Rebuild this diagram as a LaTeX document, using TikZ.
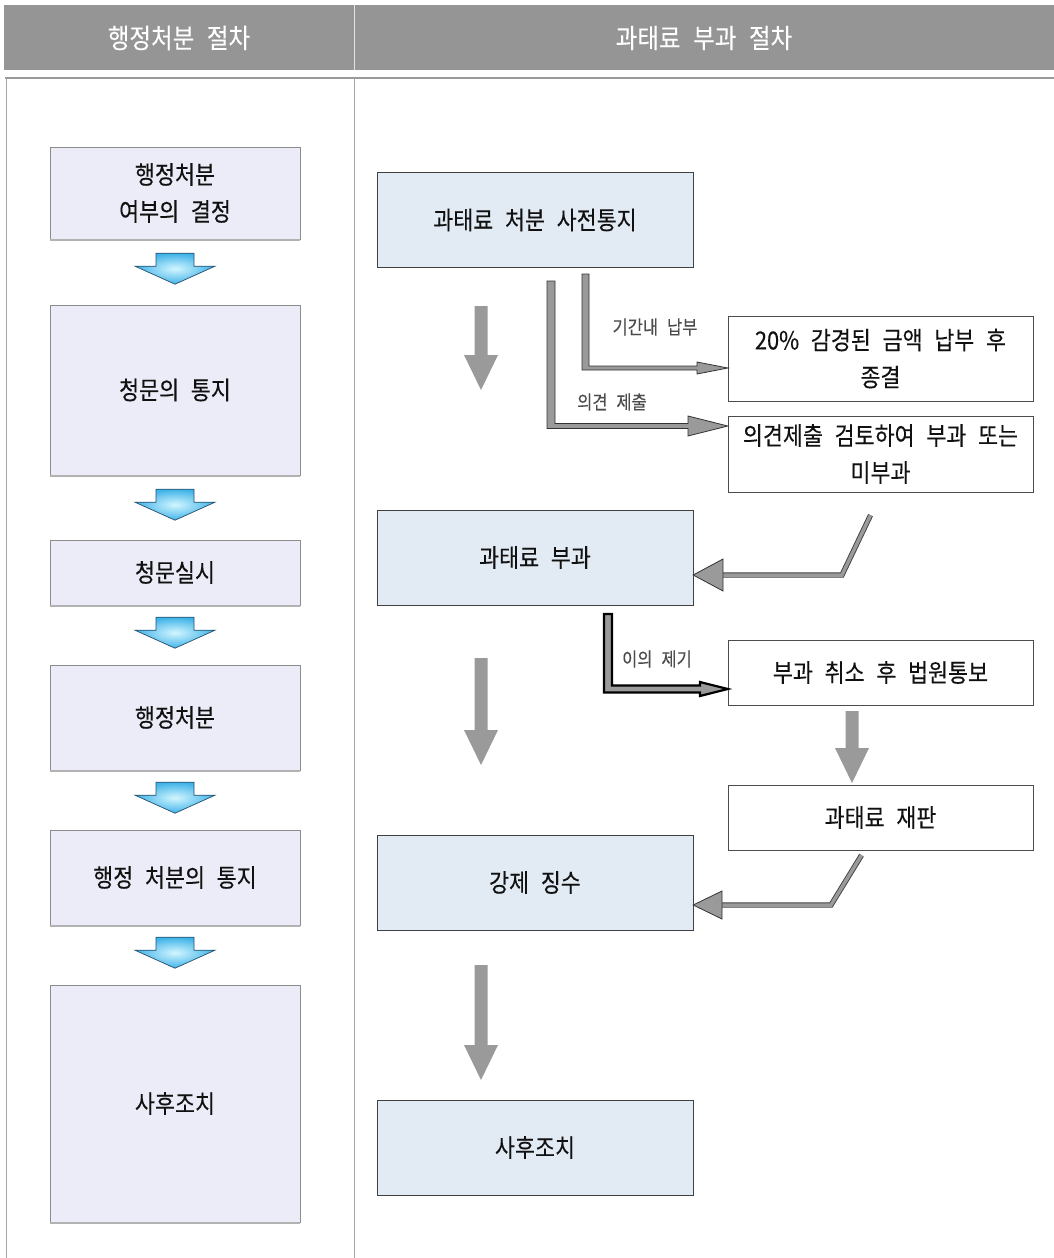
\documentclass[tikz,border=0pt]{standalone}
\usepackage{fontspec}
\setmainfont{Noto Sans CJK KR}[FakeStretch=0.87, WordSpace=2.4, FakeBold=0.2]
\usetikzlibrary{calc}
\definecolor{hdr}{HTML}{959595}
\definecolor{lbox}{HTML}{ECECF8}
\definecolor{rbox}{HTML}{E2EAF4}
\definecolor{agray}{HTML}{9A9A9A}
\definecolor{txt}{HTML}{111111}
\definecolor{chevin}{HTML}{D2F6FF}
\definecolor{chevout}{HTML}{3FB2E8}
\definecolor{chevline}{HTML}{24506E}
\newcommand\bluechev[2]{%
  \shade[draw=chevline, inner color=chevin, outer color=chevout, line width=0.7]
    ($(#1.south)+(-19,#2)$) -- ++(38,0) -- ++(0,13) -- ++(21,0) -- ++(-40,18) -- ++(-40,-18) -- ++(21,0) -- cycle;}
\newcommand\grayarrow[3]{%
  \fill[agray] (#1-6.5,#2) -- (#1+6.5,#2) -- (#1+6.5,#3-35) -- (#1+17,#3-35) -- (#1,#3)
    -- (#1-17,#3-35) -- (#1-6.5,#3-35) -- cycle;}
\tikzset{
  lb/.style={draw=black!45, fill=lbox, minimum width=250, minimum height=#1, align=center, inner sep=0},
  rb/.style={draw=black!75, fill=rbox, minimum width=316, minimum height=#1, align=center, inner sep=0},
  wb/.style={draw=black!70, fill=white, minimum width=305, minimum height=#1, align=center, inner sep=0},
  lbl/.style={font=\fontsize{19}{22}\selectfont, text=black!70},
  hd/.style={font=\fontsize{27}{30}\selectfont, text=white},
  dbl/.style={draw=black!75, double=agray, double distance=3.5pt, line width=0.9pt, line join=miter},
}
\begin{document}
\begin{tikzpicture}[x=1pt, y=-1pt, font=\fontsize{25}{37}\selectfont, text=txt]
\useasboundingbox (0,0) rectangle (1054,1258);
\fill[white] (0,0) rectangle (1054,1258);
% header
\fill[hdr] (4,5) rectangle (1054,70);
\draw[white!75!hdr] (354,5) -- (354,70);
\node[hd] (h1) at (179,38) {행정처분 절차};
\node[hd] (h2) at (704,38) {과태료 부과 절차};
% frame
\draw[black!40, line width=1.5] (5,78) -- (1054,78);
\draw[black!35] (6,78) -- (6,1258);
\draw[black!35] (354,78) -- (354,1258);
% left column
\node[lb=92]  (L1) at (175,193)    {행정처분\\여부의 결정};
\node[lb=170] (L2) at (175,390)    {청문의 통지};
\node[lb=65]  (L3) at (175,572.5)  {청문실시};
\node[lb=105] (L4) at (175,717.5)  {행정처분};
\node[lb=95]  (L5) at (175,877.5)  {행정 처분의 통지};
\node[lb=237] (L6) at (175,1103.5) {사후조치};
\foreach \n in {L1,L2,L3,L4,L5,L6}{
  \draw[black!30, line width=2] ($(\n.south west)+(0,1)$) -- ($(\n.south east)+(0,1)$);}
\bluechev{L1}{14}
\bluechev{L2}{14}
\bluechev{L3}{12}
\bluechev{L4}{12}
\bluechev{L5}{12}
% right column
\node[rb=95] (A) at (535,220)    {과태료 처분 사전통지};
\node[rb=95] (B) at (535,557.5)  {과태료 부과};
\node[rb=95] (C) at (535,882.5)  {강제 징수};
\node[rb=95] (D) at (535,1147.5) {사후조치};
\node[wb=85] (E) at (880.5,358.5) {20\% 감경된 금액 납부 후\\종결};
\node[wb=76] (F) at (880.5,454)   {의견제출 검토하여 부과 또는\\미부과};
\node[wb=65] (G) at (880.5,672.5) {부과 취소 후 법원통보};
\node[wb=65] (H) at (880.5,817.5) {과태료 재판};
% gray down arrows
\grayarrow{481}{306}{390}
\grayarrow{481}{658}{765}
\grayarrow{481}{965}{1080}
\grayarrow{852}{711}{783}
% bent arrows from A
\filldraw[fill=agray, draw=black!80, line width=0.8]
  (582,274) -- (589,274) -- (589,366) -- (697,366) -- (697,362) -- (E.west |- 0,368)
  -- (697,374) -- (697,370) -- (582,370) -- cycle;
\filldraw[fill=agray, draw=black!80, line width=0.8]
  (547,281) -- (555,281) -- (555,423.5) -- (688,423.5) -- (688,416) -- (F.west |- 0,426)
  -- (688,436) -- (688,428.5) -- (547,428.5) -- cycle;
\node[lbl] (t1) at (655,327) {기간내 납부};
\node[lbl] (t2) at (612,402) {의견 제출};
% F -> B
\draw[dbl] ($(F.south)+(-10,23)$) -- (842,575) -- (723,575);
\filldraw[fill=agray, draw=black!80, line width=0.8] (723,559) -- (B.east |- 0,575) -- (723,591) -- cycle;
% B -> G (objection)
\filldraw[fill=agray, draw=black, line width=2.2]
  (604,614) -- (612,614) -- (612,685.5) -- (700,685.5) -- (700,682) -- (G.west |- 0,689)
  -- (700,696) -- (700,692.5) -- (604,692.5) -- cycle;
\node[lbl] (t3) at (657,659) {이의 제기};
% H -> C
\draw[dbl] ($(H.south)+(-19,5)$) -- (831,905) -- (722,905);
\filldraw[fill=agray, draw=black!80, line width=0.8] (722,891) -- (C.east |- 0,905) -- (722,919) -- cycle;
\end{tikzpicture}
\end{document}
